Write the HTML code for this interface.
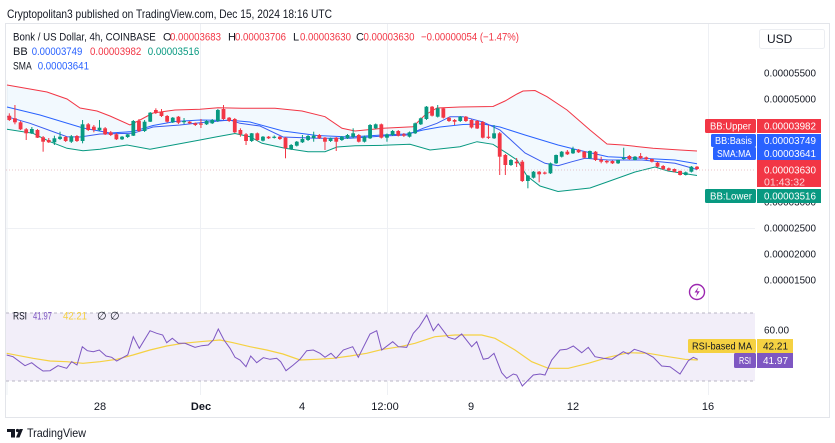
<!DOCTYPE html>
<html><head><meta charset="utf-8"><style>
html,body{margin:0;padding:0;background:#fff;}
svg{display:block;font-family:"Liberation Sans",sans-serif;}
</style></head><body>
<svg id="s" width="835" height="443" viewBox="0 0 835 443" xmlns="http://www.w3.org/2000/svg">
<rect x="0" y="0" width="835" height="443" fill="#fff"/>
<text x="7" y="18" font-size="12" fill="#131722" textLength="325" lengthAdjust="spacingAndGlyphs">Cryptopolitan3 published on TradingView.com, Dec 15, 2024 18:16 UTC</text>
<rect x="5.5" y="23.5" width="824" height="394" fill="#fff" stroke="#e3e5ea"/>
<!-- grid -->
<g stroke="#eef0f4" stroke-width="1">
<line x1="7" y1="80" x2="7" y2="395"/>
<line x1="200.5" y1="24" x2="200.5" y2="395"/>
<line x1="387.5" y1="24" x2="387.5" y2="395"/>
<line x1="708.5" y1="24" x2="708.5" y2="395"/>
<line x1="6" y1="228.5" x2="755" y2="228.5"/>
</g>
<!-- RSI pane bg -->
<rect x="6" y="313" width="749" height="68" fill="#f2eef9"/>
<line x1="6" y1="313" x2="755" y2="313" stroke="#b8b6c4" stroke-dasharray="3 3"/>
<line x1="6" y1="381" x2="755" y2="381" stroke="#b8b6c4" stroke-dasharray="3 3"/>
<!-- BB fill -->
<polygon id="bbfill" fill="#2196f3" fill-opacity="0.06" points=""/>
<polyline id="up" fill="none" stroke="#f23645" stroke-width="1" points="7,85 47,92 67,99 80,108 97,111 110,116 130,125 140,120 153,113 175,110 200,109.3 218,107.7 242,108.3 275,108.3 302,111 325,116.7 342,128.3 355,131 383,128.3 413,126.7 425,115 437,108 460,107 493,106.5 505,101 517,94 523,91 535,90.5 547,96.7 567,110 590,130 607,144 623,145 653,148.3 680,150 697,151"/>
<polyline id="lo" fill="none" stroke="#089981" stroke-width="1" points="7,129.3 33,133.3 50,141.7 67,148.3 83,150.7 100,149.3 127,145 150,149.3 173,145 200,140 217,136.7 235,133.5 250,136.7 262,143.3 285,148.3 308,151.7 325,151.7 337,147 355,145.7 383,145.3 410,144.3 430,150 460,146.7 477,141.7 493,144.3 507,153.3 517,160 527,176 540,186 558,191.5 590,188 607,182 635,172 655,167 668,171 697,175.5"/>
<polyline fill="none" stroke="#2962ff" stroke-width="1" points="7,107 40,115 83,128 110,133 133,131.5 153,125.5 175,121.5 200,120 233,120.5 250,122 283,131 317,135.5 350,137 383,135 407,134 423,130 440,127 463,124.5 483,124 500,127 525,135 558,145 578,150 608,156.7 642,158.3 675,160 697,163.7"/>
<polyline fill="none" stroke="#3a5cf0" stroke-width="1" points="7,116.7 30,123.3 67,136.7 80,137 100,134 133,133.3 153,127 180,125 200,122.7 230,120 240,123.3 260,126 283,137 317,138.3 350,138.3 383,136 407,135 423,128.3 437,123.3 450,116.7 463,116.7 483,122 500,130 525,153 545,163.3 558,165.7 572,161.7 585,158.3 608,160 642,160 675,163.3 697,169.5"/>
<line x1="6" y1="170" x2="755" y2="170" stroke="#d9a0a6" stroke-opacity="0.6" stroke-dasharray="1 2"/>
<g id="candles"></g>
<!-- RSI lines -->
<polyline fill="none" stroke="#f5d142" stroke-width="1.2" points="6.7,353.3 33,358.3 50,361 66.7,361.7 83,363.3 100,361.7 116.7,359.3 133,355 150,350 166.7,346 183,343.3 200,341.7 220,340 233,342.7 250,346.7 266.7,350 283,354 300,360 316.7,359.3 333,358.3 350,356 366.7,353.3 383,349.3 400,346.7 415,343.3 435,336.7 455,335 481.7,335 495,338.3 515,350 531.7,361.7 548.3,368.3 568.3,368.3 588.3,363.3 608.3,357.3 628.3,352.7 648.3,353.3 668.3,356.7 685,359.3 697.7,360"/>
<polyline fill="none" stroke="#7e57c2" stroke-width="1" points="6.7,355 13,356.7 25,365.7 31.7,362.7 36.7,366.7 43,371 50,370.7 58,365.7 66.7,368.3 71.7,361.7 77,365 82.3,346.7 87.3,350.7 93.3,351.7 99.3,350 106,356 111.7,357.3 116.7,361 123.3,357.3 127.7,355 133.3,336.7 139.3,348.3 150,330.7 156.7,333.3 162.7,335 166.7,342.7 172.3,338.3 178.3,343.3 185,343.3 195,347.3 201.7,345.7 208.3,345 213.3,340 218.3,329 224,340 230,348.3 235,357.3 240,360 246,366.7 250.7,356 256.7,362.7 263.3,357.7 270,359.3 276.7,358.3 280.7,361.7 286,370.7 293.3,365 300,359.3 306.7,350.7 313.3,350 320,353.3 325,357.3 331,353.3 336,358.3 343.3,350 352.7,346.7 358.3,357.3 370,334 376.7,330.7 381.7,350 392.7,341.7 398.3,346.7 406.7,347.3 413.3,333.3 419.3,326.7 426.7,315 433.3,330.7 438.3,324 448.3,337.3 455,339.3 461.7,334 471.7,346.7 476.7,341.7 483.3,359.3 488.3,358.3 494,353.3 501.7,372.7 506.7,378.3 513.3,374 516.7,375 522.3,386 533.3,375 540,374 545,375 551.7,360 560,350 566.7,349.3 573.3,346 581.7,352.7 588.3,347.3 595,356.7 603.3,358.3 611.7,359.3 623.3,351.7 628.3,354 634.3,349.3 645,352.7 653.3,357.3 661.7,366 670,366.7 680,374 688.3,360.7 693.3,357.3 697.7,359.3"/>

<!-- legend -->
<g font-size="11">
<text x="13" y="40.5" fill="#131722" textLength="142.7" lengthAdjust="spacingAndGlyphs">Bonk / US Dollar, 4h, COINBASE</text>
<text x="163" y="40.5" fill="#131722">O</text><text x="170" y="40.5" fill="#f23645" textLength="51" lengthAdjust="spacingAndGlyphs">0.00003683</text>
<text x="228" y="40.5" fill="#131722">H</text><text x="235" y="40.5" fill="#f23645" textLength="51" lengthAdjust="spacingAndGlyphs">0.00003706</text>
<text x="293" y="40.5" fill="#131722">L</text><text x="300" y="40.5" fill="#f23645" textLength="51" lengthAdjust="spacingAndGlyphs">0.00003630</text>
<text x="356" y="40.5" fill="#131722">C</text><text x="363.5" y="40.5" fill="#f23645" textLength="51" lengthAdjust="spacingAndGlyphs">0.00003630</text>
<text x="421" y="40.5" fill="#f23645" textLength="98" lengthAdjust="spacingAndGlyphs">−0.00000054 (−1.47%)</text>
<text x="13" y="55" fill="#131722">BB</text>
<text x="31.7" y="55" fill="#2962ff" textLength="50.6" lengthAdjust="spacingAndGlyphs">0.00003749</text>
<text x="90" y="55" fill="#f23645" textLength="51.3" lengthAdjust="spacingAndGlyphs">0.00003982</text>
<text x="147.7" y="55" fill="#089981" textLength="51.6" lengthAdjust="spacingAndGlyphs">0.00003516</text>
<text x="13" y="69.5" fill="#131722" textLength="18.7" lengthAdjust="spacingAndGlyphs">SMA</text>
<text x="37.7" y="69.5" fill="#2962ff" textLength="51.3" lengthAdjust="spacingAndGlyphs">0.00003641</text>
<text x="13" y="319.5" fill="#131722" textLength="14" lengthAdjust="spacingAndGlyphs">RSI</text>
<text x="33" y="319.5" fill="#7e57c2" textLength="19" lengthAdjust="spacingAndGlyphs">41.97</text>
<text x="63" y="319.5" fill="#f5d142" textLength="24" lengthAdjust="spacingAndGlyphs">42.21</text>
<text x="97" y="319.5" fill="#131722">∅</text>
<text x="110" y="319.5" fill="#131722">∅</text>
</g>

<!-- USD -->
<rect x="759.5" y="29.5" width="65" height="19" fill="#fff" stroke="#eceef2" rx="2"/>
<text x="767" y="43" font-size="12" fill="#131722">USD</text>

<!-- price axis -->
<g font-size="10.5" fill="#131722">
<text x="764" y="76.5" textLength="52" lengthAdjust="spacingAndGlyphs">0.00005500</text>
<text x="764" y="102.5" textLength="52" lengthAdjust="spacingAndGlyphs">0.00005000</text>
<text x="764" y="205.5" textLength="52" lengthAdjust="spacingAndGlyphs">0.00003000</text>
<text x="764" y="231.5" textLength="52" lengthAdjust="spacingAndGlyphs">0.00002500</text>
<text x="764" y="257.5" textLength="52" lengthAdjust="spacingAndGlyphs">0.00002000</text>
<text x="764" y="283.5" textLength="52" lengthAdjust="spacingAndGlyphs">0.00001500</text>
<text x="764" y="333.5" textLength="25" lengthAdjust="spacingAndGlyphs">60.00</text>
</g>

<!-- labels -->
<g font-size="10" fill="#fff">
<rect x="705" y="119" width="51" height="14" fill="#f23645" rx="1.5"/><rect x="757" y="119" width="64" height="14" fill="#f23645"/>
<text x="710" y="129.5" textLength="41" lengthAdjust="spacingAndGlyphs">BB:Upper</text>
<text x="764" y="129.5" textLength="52" lengthAdjust="spacingAndGlyphs">0.00003982</text>
<rect x="711" y="134" width="45" height="13" fill="#2962ff" rx="1.5"/><rect x="757" y="134" width="64" height="13" fill="#2962ff"/>
<text x="715" y="144" textLength="37" lengthAdjust="spacingAndGlyphs">BB:Basis</text>
<text x="764" y="144" textLength="52" lengthAdjust="spacingAndGlyphs">0.00003749</text>
<rect x="713" y="147" width="43" height="13" fill="#2962ff" rx="1.5"/><rect x="757" y="147" width="64" height="13" fill="#2962ff"/>
<text x="717" y="157" textLength="34" lengthAdjust="spacingAndGlyphs">SMA:MA</text>
<text x="764" y="157" textLength="52" lengthAdjust="spacingAndGlyphs">0.00003641</text>
<rect x="757" y="160" width="64" height="27" fill="#f23645"/>
<text x="764" y="173.5" textLength="52" lengthAdjust="spacingAndGlyphs">0.00003630</text>
<text x="764" y="185.5" fill="#ffd6d9" textLength="41" lengthAdjust="spacingAndGlyphs">01:43:32</text>
<rect x="705" y="189" width="51" height="14" fill="#089981" rx="1.5"/><rect x="757" y="189" width="64" height="14" fill="#089981"/>
<text x="710" y="199.5" textLength="42" lengthAdjust="spacingAndGlyphs">BB:Lower</text>
<text x="764" y="199.5" textLength="52" lengthAdjust="spacingAndGlyphs">0.00003516</text>
<rect x="688" y="339" width="68" height="14" fill="#f5d142" rx="1.5"/><rect x="757" y="339" width="36" height="14" fill="#f5d142"/>
<text x="692" y="349.5" fill="#131722" textLength="60" lengthAdjust="spacingAndGlyphs">RSI-based MA</text>
<text x="763" y="349.5" fill="#131722" textLength="25" lengthAdjust="spacingAndGlyphs">42.21</text>
<rect x="734" y="353" width="22" height="15" fill="#7e57c2" rx="1.5"/><rect x="757" y="353" width="36" height="15" fill="#7e57c2"/>
<text x="739" y="364" textLength="12" lengthAdjust="spacingAndGlyphs">RSI</text>
<text x="763" y="364" textLength="25" lengthAdjust="spacingAndGlyphs">41.97</text>
</g>

<!-- lightning -->
<circle cx="697" cy="292" r="7.5" fill="#fff" stroke="#9c27b0" stroke-width="1.4"/>
<path d="M698.5,287 L694.5,292.5 L697.3,292.5 L695.8,297 L699.8,291.3 L697,291.3 Z" fill="#9c27b0"/>

<!-- date axis -->
<g font-size="11" fill="#131722" text-anchor="middle">
<text x="100" y="410">28</text>
<text x="201" y="410" font-weight="bold">Dec</text>
<text x="302" y="410">4</text>
<text x="385" y="410">12:00</text>
<text x="471" y="410">9</text>
<text x="573" y="410">12</text>
<text x="708" y="410">16</text>
</g>

<!-- logo -->
<g fill="#131722">
<rect x="7" y="429" width="8" height="3"/>
<rect x="11" y="429" width="4" height="8.5"/>
<circle cx="17.5" cy="430.5" r="1.6"/>
<path d="M19.5,429 L23,429 L19.5,437.5 L16,437.5 Z"/>
</g>
<text x="27" y="437" font-size="12" fill="#131722" textLength="59" lengthAdjust="spacingAndGlyphs">TradingView</text>
</svg>
<script>
(function(){
var B=[[115.7,113.3,121,120],[118.3,105,124.3,122.3],[122.3,121,130,129.3],[129.3,128,140,133.3],[133.3,127,134,129],[130,129,138,137.7],[137.3,136,151.7,141.7],[140,138,143,142.3],[142.3,135.7,145,138.3],[139,131.7,140,136.7],[137,136,142,141],[141.7,135,143,136.3],[136,135,142,141],[141,120,143.3,124.3],[124.3,123,131,130],[126.7,125,132.3,130],[130.3,120,131,127.7],[128.3,127,135,134.3],[132.3,131,136,135],[134.3,133,140,139.3],[139.3,136,140,136.7],[137,134,138,134.3],[135.7,120,136,121],[121,119,132,131],[131,120,132,121.7],[121.7,112,122,112.7],[110,108.3,114,112.7],[111.7,109,117,116],[116,115,122.7,121.7],[122.3,117,123,117.7],[116.7,116,124,122.7],[122,118,124,121],[121.7,121,124,123.3],[123.3,122.5,126,125],[123.5,119,128,124],[124.3,120,125,121],[123.3,119,124,120],[121,109,122,110],[109,105,120,119],[117.7,117,122,121],[119,118,133,132.3],[130,128.3,136.7,134.3],[134.3,133,145,141],[141,133,142,133.3],[133.3,132.5,141,140],[140.7,136,141.5,136.7],[136.7,136,139,138.3],[137.7,135.5,138.5,136.7],[136.7,136,140,139],[137.7,137,158.3,148.3],[149,144,150,145],[145.7,141,146.5,141.7],[142.3,135,143,139],[140,135,141,136],[138,131.7,141.7,135.7],[135,134,139,138.3],[137.7,137,150,141.7],[141,137.5,142,138.3],[137.7,137,151,141.7],[140,136,141,136.7],[138.3,134,139,135],[136.7,128.3,138.3,133.3],[135,134,142.5,141.7],[141.7,135.5,142.5,136.7],[138.3,124,139,125],[128.3,123.5,129,124.3],[124.3,123.5,138.5,137.7],[137.7,133.5,141.7,134.3],[135,130,136,131],[131,130,136.5,135.7],[134.3,133,137,135.7],[136.7,131.5,137.5,132.3],[133.3,122.5,134,123.3],[124.3,117.5,125,118.3],[119,106,120,106.7],[106.7,106,116.5,115.7],[116.7,105,117.5,108.3],[108.3,107.5,118.5,117.7],[117.7,117,122,121],[120,119,125,121.7],[121,116,122,116.7],[116.7,116,122,121],[120,119.5,128.5,127.5],[121,120,129,128.5],[122,121,138.5,137.7],[136.7,125,139,137.7],[138.3,125,139,133.3],[133.3,132,175,156.7],[155,154,175,165],[165,159,166,160],[161.7,158,167,163.3],[161.7,160,182,181],[181,175,188.3,175.7],[177.7,171,178.5,171.7],[171.7,171,182.3,174.3],[172.5,171.5,174.5,173.5],[173.3,162.5,174,163.3],[163.3,154.5,164,155],[156.7,151,157.5,151.7],[151.7,150,155,154.3],[153.3,146.7,154,149],[149.7,149,153,152.3],[151.7,151,158.5,157.7],[158.3,150.5,159,151],[151.7,151,161,160],[160,156.7,163.3,161.7],[161,160,163.5,162.3],[161,160.5,164,163.3],[163.3,159.5,164,160],[159,147.7,159.5,157.7],[156,155,160,159],[160,156,160.5,156.7],[156,153,159,158.3],[157.3,156.5,160,159.3],[159,158.5,162.5,161.7],[162.7,162,167.5,166.7],[166,165,170,169],[168.3,167.5,171,170.3],[169,168.5,172.5,171.7],[171,170.5,175.5,175],[175,171.5,175.5,172.3],[171.7,166,172.5,166.7],[166.7,166,170,169]];
var g=document.getElementById('candles'),h='';
var step=(697-9.3)/(B.length-1);
for(var i=0;i<B.length;i++){
 var b=B[i],x=9.3+i*step,o=b[0],hi=b[1],lo=b[2],c=b[3];
 var col=c<o?'#089981':'#f23645';
 var top=Math.min(o,c),bh=Math.max(Math.abs(o-c),1.2);
 h+='<line x1="'+x.toFixed(2)+'" y1="'+hi+'" x2="'+x.toFixed(2)+'" y2="'+lo+'" stroke="'+col+'" stroke-width="1"/>';
 h+='<rect x="'+(x-1.9).toFixed(2)+'" y="'+top+'" width="3.8" height="'+bh.toFixed(2)+'" fill="'+col+'"/>';
}
g.innerHTML=h;
var up=document.getElementById('up').getAttribute('points').trim().split(/\s+/);
var lo2=document.getElementById('lo').getAttribute('points').trim().split(/\s+/).reverse();
document.getElementById('bbfill').setAttribute('points',up.concat(lo2).join(' '));
})();
</script>
</body></html>
